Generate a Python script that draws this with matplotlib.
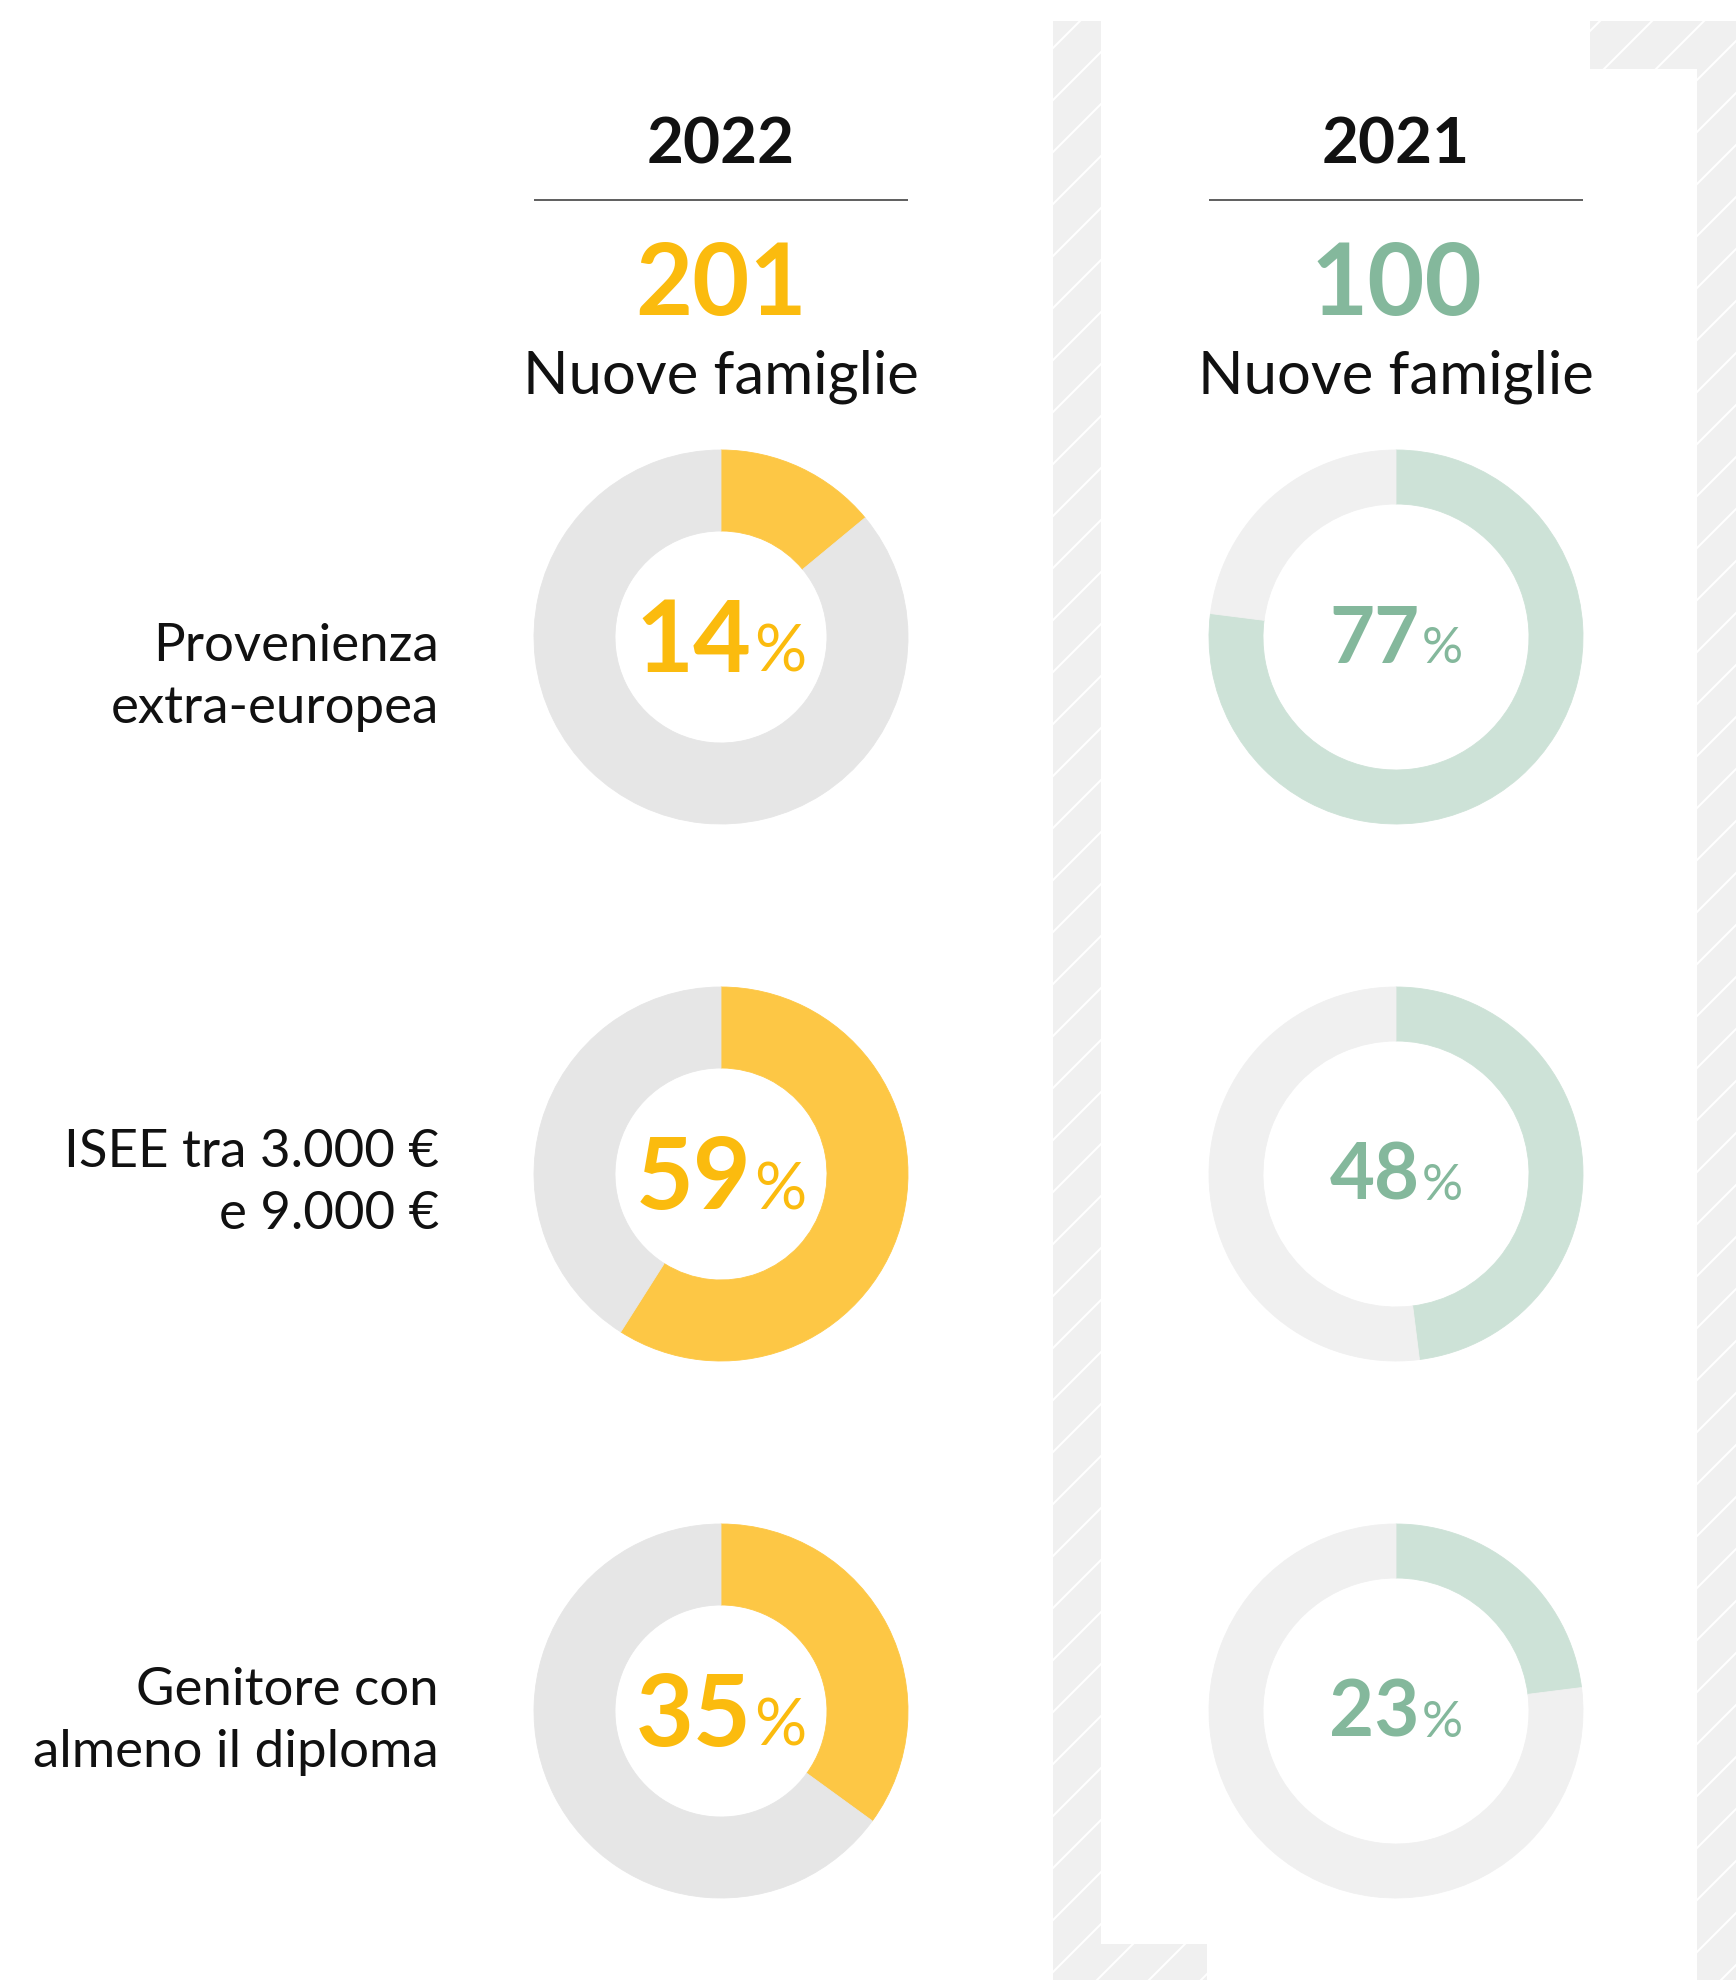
import matplotlib
matplotlib.use("Agg")
import matplotlib.pyplot as plt
from matplotlib.patches import Rectangle, Polygon
from matplotlib.collections import LineCollection

# ---------------------------------------------------------------- data
years = ["2022", "2021"]
new_families = [201, 100]
families_label = "Nuove famiglie"
row_labels = [
    ["Provenienza", "extra-europea"],
    ["ISEE tra 3.000 €", "e 9.000 €"],
    ["Genitore con", "almeno il diploma"],
]
share_2022 = [14, 59, 35]
share_2021 = [77, 48, 23]
shares = [share_2022, share_2021]

# ---------------------------------------------------------------- style
W, H = 1736, 1981
DPI = 100
FONT = "Lato"

fill_colors = ["#fdc745", "#cde2d7"]
rest_colors = ["#e6e6e6", "#f0f0f0"]
number_colors = ["#fbbb0e", "#84b89c"]
hatch_bg = "#f0f0f0"

col_x = [721, 1396]
row_y = [638, 1175, 1712]
r_out = 187
r_in = [106, 133]
pct_baseline_off = [34, 25]
pct_sizes = [(72, 47), (56, 37)]
label_right = 439
label_baselines = [661, 1167, 1705]
label_leading = 62

fig = plt.figure(figsize=(W / DPI, H / DPI), dpi=DPI)
fig.patch.set_facecolor("white")
ax = fig.add_axes([0, 0, 1, 1])


def Y(y):
    """Top-down pixel row -> axis coordinate."""
    return H - y


# ---------------------------------------------------------------- hatched frame
x0, x1, y0 = 1053, W, 22
frame = Rectangle((x0, 0), x1 - x0, Y(y0), facecolor=hatch_bg, edgecolor="none", zorder=0)
ax.add_patch(frame)
segs = []
spacing = 52
c = 2610
while c - spacing > x0 + y0:
    c -= spacing
while c < x1 + H + spacing:
    segs.append([(x0 - 5, Y(c - (x0 - 5))), (x1 + 5, Y(c - (x1 + 5)))])
    c += spacing
hatch = LineCollection(segs, colors="white", linewidths=1.5, zorder=1)
hatch.set_clip_path(frame)
ax.add_collection(hatch)

panel = Polygon(
    [(1101, Y(y0)), (1590, Y(y0)), (1590, Y(70)), (1697, Y(70)), (1697, Y(H + 5)),
     (1207, Y(H + 5)), (1207, Y(1945)), (1101, Y(1945))],
    closed=True, facecolor="white", edgecolor="none", zorder=2)
ax.add_patch(panel)

# ---------------------------------------------------------------- headers
for j, cx in enumerate(col_x):
    ax.text(cx, Y(164), years[j], ha="center", va="baseline", fontsize=46,
            fontweight="bold", family=FONT, color="#111111", zorder=5)
    ax.plot([cx - r_out, cx + r_out], [Y(201), Y(201)], color="#333333",
            lw=1.1, solid_capstyle="butt", zorder=5)
    ax.text(cx, Y(315), str(new_families[j]), ha="center", va="baseline",
            fontsize=71, fontweight="bold", family=FONT,
            color=number_colors[j], zorder=5)
    ax.text(cx, Y(393), families_label, ha="center", va="baseline",
            fontsize=43, family=FONT, color="#111111", zorder=5)

# ---------------------------------------------------------------- row labels
for i, lines in enumerate(row_labels):
    for k, line in enumerate(lines):
        ax.text(label_right, Y(label_baselines[i] + k * label_leading), line,
                ha="right", va="baseline", fontsize=38, family=FONT,
                color="#111111", zorder=5)

# ---------------------------------------------------------------- donuts
renderer = fig.canvas.get_renderer()
for j, cx in enumerate(col_x):
    for i, cy in enumerate(row_y):
        v = shares[j][i]
        wedges, _ = ax.pie(
            [v, 100 - v], colors=[fill_colors[j], rest_colors[j]],
            startangle=90, counterclock=False, center=(cx, Y(cy)),
            radius=r_out, frame=True,
            wedgeprops=dict(width=r_out - r_in[j], linewidth=0.6))
        for w in wedges:
            w.set_edgecolor(w.get_facecolor())
            w.set_zorder(3)

        big, small = pct_sizes[j]
        yb = Y(cy + pct_baseline_off[j])
        t1 = ax.text(0, yb, str(v), ha="left", va="baseline", fontsize=big,
                     fontweight="bold", family=FONT, color=number_colors[j], zorder=5)
        t2 = ax.text(0, yb, "%", ha="left", va="baseline", fontsize=small,
                     family=FONT, color=number_colors[j], zorder=5)
        w1 = t1.get_window_extent(renderer).width
        w2 = t2.get_window_extent(renderer).width
        gap = 2
        start = cx - (w1 + gap + w2) / 2
        t1.set_x(start)
        t2.set_x(start + w1 + gap)

ax.set_xlim(0, W)
ax.set_ylim(0, H)
ax.set_aspect("auto")
ax.axis("off")

fig.savefig("out.png", dpi=DPI, facecolor="white")
